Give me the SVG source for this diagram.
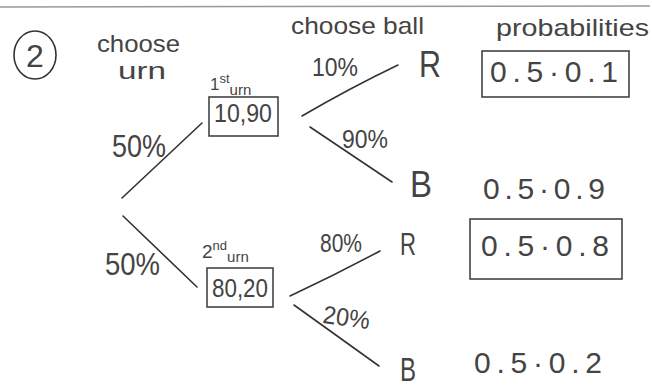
<svg xmlns="http://www.w3.org/2000/svg" width="652" height="387" viewBox="0 0 652 387">
<style>
text{font-family:"Liberation Sans",Arial,sans-serif;fill:#444}
.h{font-size:24px}
.p{font-size:25px}
.v{font-size:30px}
.n{font-size:36px}
.s{font-size:15px}
.box{fill:none;stroke:#444;stroke-width:1.6}
.ln{fill:none;stroke:#333;stroke-width:1.6;stroke-linecap:round}
</style>
<rect width="652" height="387" fill="#fff"/>
<line x1="0" y1="7" x2="650" y2="6" stroke="#999" stroke-width="1.5"/>
<g id="label-2">
<ellipse cx="35" cy="55" rx="21" ry="24" fill="none" stroke="#333" stroke-width="1.6"/>
<text x="35" y="67" text-anchor="middle" style="font-size:32px">2</text>
</g>
<g id="headers">
<text class="h" x="97" y="52" textLength="83" lengthAdjust="spacingAndGlyphs">choose</text>
<text class="h" x="118" y="79" textLength="48" lengthAdjust="spacingAndGlyphs">urn</text>
<text class="h" x="291" y="34" textLength="133" lengthAdjust="spacingAndGlyphs">choose ball</text>
<text class="h" x="496" y="36" textLength="153" lengthAdjust="spacingAndGlyphs">probabilities</text>
</g>
<g id="connectors">
<path class="ln" d="M122,198 L202,123"/>
<path class="ln" d="M123,216 L197,287"/>
<path class="ln" d="M302,116 Q350,88 398,65"/>
<path class="ln" d="M310,127 L392,182"/>
<path class="ln" d="M290,296 Q335,275 380,251"/>
<path class="ln" d="M294,305 L379,366"/>
</g>
<g id="edge-labels">
<text class="p" style="font-size:31px" x="112" y="157" textLength="54" lengthAdjust="spacingAndGlyphs">50%</text>
<text class="p" style="font-size:31px" x="105" y="275" textLength="55" lengthAdjust="spacingAndGlyphs">50%</text>
<text class="p" x="312" y="76" textLength="46" lengthAdjust="spacingAndGlyphs">10%</text>
<text class="p" x="342" y="148" textLength="46" lengthAdjust="spacingAndGlyphs">90%</text>
<text class="p" x="320" y="252" textLength="42" lengthAdjust="spacingAndGlyphs">80%</text>
<text class="p" x="323" y="326" textLength="47" lengthAdjust="spacingAndGlyphs" transform="rotate(8 346 318)">20%</text>
</g>
<g id="urn1">
<text class="s" x="210" y="90" style="font-size:17px">1<tspan dy="-7" font-size="13">st</tspan><tspan dy="12" font-size="15">urn</tspan></text>
<rect class="box" x="209" y="97" width="69" height="39"/>
<text class="p" x="214" y="122" textLength="58" lengthAdjust="spacingAndGlyphs">10,90</text>
</g>
<g id="urn2">
<text class="s" x="202" y="258" style="font-size:19px">2<tspan dy="-8" font-size="13">nd</tspan><tspan dy="12" font-size="15">urn</tspan></text>
<rect class="box" x="207" y="268" width="66" height="39"/>
<text class="p" x="212" y="297" textLength="56" lengthAdjust="spacingAndGlyphs">80,20</text>
</g>
<g id="R1"><text class="n" x="419" y="77" textLength="22" lengthAdjust="spacingAndGlyphs">R</text></g>
<g id="B1"><text class="n" x="410" y="197" textLength="22" lengthAdjust="spacingAndGlyphs">B</text></g>
<g id="R2"><text class="n" style="font-size:31px" x="400" y="255" textLength="16" lengthAdjust="spacingAndGlyphs">R</text></g>
<g id="B2"><text class="n" style="font-size:33px" x="400" y="381" textLength="16" lengthAdjust="spacingAndGlyphs">B</text></g>
<g id="prob1">
<rect class="box" x="482" y="51" width="147" height="46"/>
<text class="v" x="490" y="82" textLength="128" lengthAdjust="spacing">0.5·0.1</text>
</g>
<g id="prob2"><text class="v" x="483" y="199" textLength="122" lengthAdjust="spacing">0.5·0.9</text></g>
<g id="prob3">
<rect class="box" x="470" y="219" width="152" height="60"/>
<text class="v" x="481" y="256" textLength="128" lengthAdjust="spacing">0.5·0.8</text>
</g>
<g id="prob4"><text class="v" x="474" y="373" textLength="128" lengthAdjust="spacing">0.5·0.2</text></g>
</svg>
